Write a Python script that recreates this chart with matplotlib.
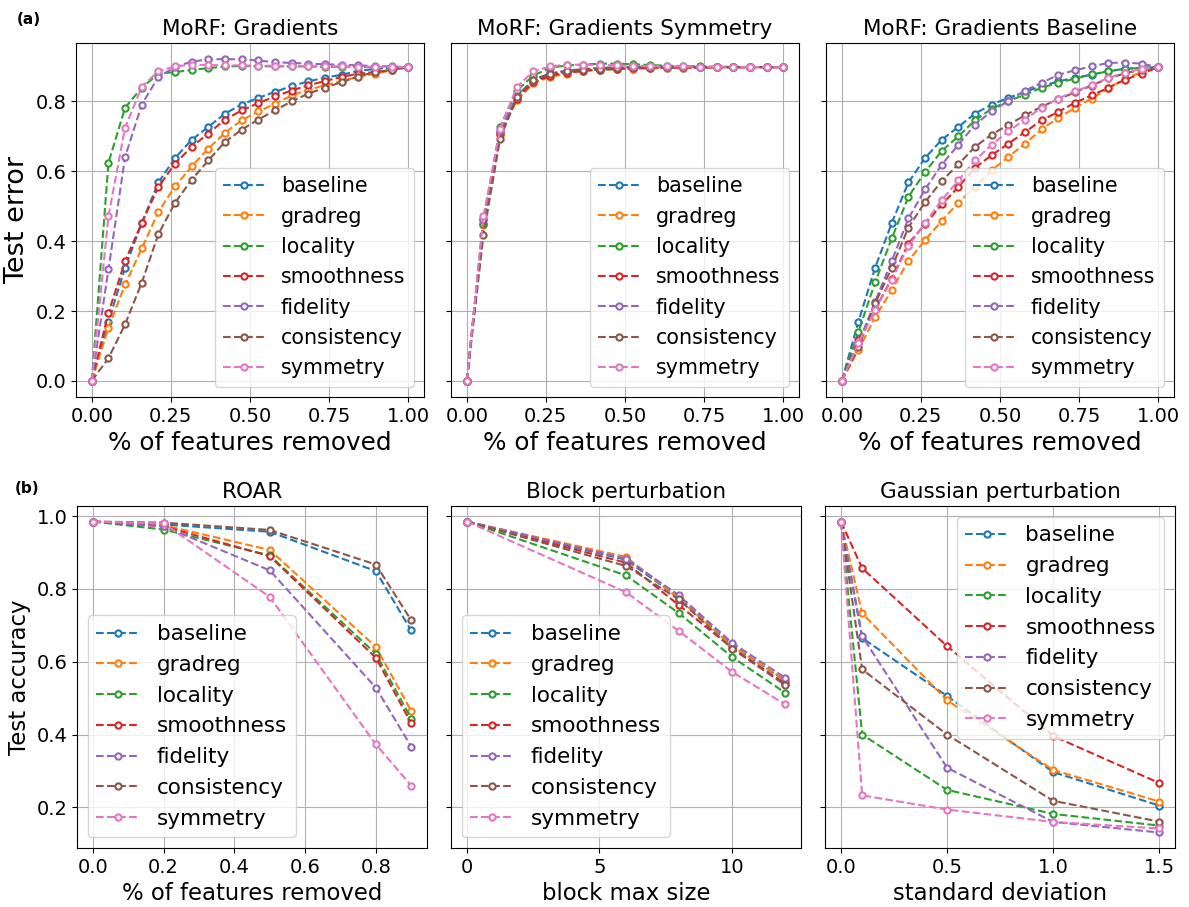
import numpy as np
import matplotlib
matplotlib.use("Agg")
import matplotlib.pyplot as plt

methods = ["baseline", "gradreg", "locality", "smoothness", "fidelity", "consistency", "symmetry"]
colors = ["#1f77b4", "#ff7f0e", "#2ca02c", "#d62728", "#9467bd", "#8c564b", "#e377c2"]

# ---- MoRF curves (fraction of features removed) ----
morf_x = np.linspace(0.0, 1.0, 20)

morf_grad = {
    "baseline":    [0, 0.170, 0.324, 0.452, 0.568, 0.638, 0.690, 0.727, 0.765, 0.791, 0.810, 0.827, 0.844, 0.857, 0.868, 0.876, 0.887, 0.893, 0.896, 0.898],
    "gradreg":     [0, 0.152, 0.276, 0.379, 0.484, 0.557, 0.614, 0.665, 0.710, 0.746, 0.771, 0.793, 0.817, 0.833, 0.846, 0.858, 0.870, 0.879, 0.889, 0.898],
    "locality":    [0, 0.624, 0.782, 0.839, 0.879, 0.884, 0.890, 0.895, 0.900, 0.901, 0.901, 0.900, 0.900, 0.900, 0.899, 0.899, 0.899, 0.898, 0.898, 0.898],
    "smoothness":  [0, 0.195, 0.343, 0.452, 0.555, 0.622, 0.670, 0.708, 0.748, 0.774, 0.795, 0.814, 0.831, 0.846, 0.858, 0.870, 0.879, 0.884, 0.889, 0.898],
    "fidelity":    [0, 0.319, 0.641, 0.791, 0.870, 0.898, 0.914, 0.920, 0.921, 0.920, 0.917, 0.912, 0.910, 0.908, 0.906, 0.905, 0.903, 0.901, 0.900, 0.898],
    "consistency": [0, 0.065, 0.162, 0.281, 0.420, 0.510, 0.576, 0.631, 0.684, 0.719, 0.748, 0.774, 0.800, 0.822, 0.839, 0.855, 0.871, 0.884, 0.890, 0.898],
    "symmetry":    [0, 0.471, 0.725, 0.841, 0.887, 0.900, 0.905, 0.904, 0.903, 0.903, 0.902, 0.902, 0.901, 0.901, 0.900, 0.900, 0.899, 0.899, 0.898, 0.898],
}

morf_sym = {
    "baseline":    [0, 0.450, 0.712, 0.810, 0.860, 0.875, 0.883, 0.888, 0.891, 0.893, 0.894, 0.895, 0.896, 0.896, 0.897, 0.897, 0.897, 0.898, 0.898, 0.898],
    "gradreg":     [0, 0.445, 0.705, 0.803, 0.852, 0.870, 0.879, 0.887, 0.890, 0.892, 0.894, 0.895, 0.896, 0.896, 0.897, 0.897, 0.897, 0.898, 0.898, 0.898],
    "locality":    [0, 0.450, 0.727, 0.831, 0.874, 0.896, 0.903, 0.905, 0.908, 0.908, 0.906, 0.904, 0.902, 0.901, 0.900, 0.899, 0.899, 0.898, 0.898, 0.898],
    "smoothness":  [0, 0.462, 0.706, 0.808, 0.855, 0.873, 0.882, 0.888, 0.891, 0.893, 0.895, 0.896, 0.897, 0.897, 0.897, 0.898, 0.898, 0.898, 0.898, 0.898],
    "fidelity":    [0, 0.460, 0.715, 0.815, 0.862, 0.880, 0.888, 0.893, 0.896, 0.898, 0.899, 0.899, 0.899, 0.899, 0.898, 0.898, 0.898, 0.898, 0.898, 0.898],
    "consistency": [0, 0.417, 0.693, 0.812, 0.862, 0.879, 0.887, 0.891, 0.894, 0.896, 0.897, 0.897, 0.898, 0.898, 0.898, 0.898, 0.898, 0.898, 0.898, 0.898],
    "symmetry":    [0, 0.471, 0.722, 0.841, 0.886, 0.900, 0.905, 0.905, 0.904, 0.903, 0.902, 0.901, 0.900, 0.900, 0.899, 0.899, 0.898, 0.898, 0.898, 0.898],
}

morf_base = {
    "baseline":    [0, 0.170, 0.324, 0.452, 0.568, 0.638, 0.690, 0.727, 0.765, 0.791, 0.810, 0.827, 0.844, 0.857, 0.868, 0.876, 0.887, 0.893, 0.896, 0.898],
    "gradreg":     [0, 0.089, 0.182, 0.260, 0.344, 0.403, 0.458, 0.510, 0.555, 0.603, 0.641, 0.679, 0.720, 0.753, 0.781, 0.808, 0.837, 0.865, 0.884, 0.898],
    "locality":    [0, 0.141, 0.282, 0.408, 0.527, 0.598, 0.658, 0.700, 0.746, 0.779, 0.801, 0.819, 0.839, 0.853, 0.865, 0.877, 0.886, 0.893, 0.896, 0.898],
    "smoothness":  [0, 0.117, 0.205, 0.293, 0.393, 0.448, 0.505, 0.555, 0.610, 0.646, 0.679, 0.712, 0.746, 0.770, 0.796, 0.817, 0.839, 0.862, 0.879, 0.898],
    "fidelity":    [0, 0.108, 0.227, 0.343, 0.465, 0.548, 0.619, 0.676, 0.733, 0.772, 0.801, 0.831, 0.853, 0.876, 0.889, 0.900, 0.910, 0.911, 0.908, 0.898],
    "consistency": [0, 0.096, 0.222, 0.324, 0.439, 0.512, 0.572, 0.620, 0.670, 0.705, 0.733, 0.760, 0.785, 0.806, 0.826, 0.845, 0.866, 0.880, 0.891, 0.898],
    "symmetry":    [0, 0.108, 0.203, 0.290, 0.386, 0.452, 0.517, 0.574, 0.631, 0.676, 0.714, 0.748, 0.782, 0.808, 0.829, 0.846, 0.867, 0.882, 0.893, 0.898],
}

# ---- Accuracy under feature removal / perturbation ----
roar_x = [0.0, 0.2, 0.5, 0.8, 0.9]
roar = {
    "baseline":    [0.985, 0.977, 0.957, 0.849, 0.686],
    "gradreg":     [0.985, 0.975, 0.907, 0.641, 0.465],
    "locality":    [0.985, 0.963, 0.892, 0.622, 0.444],
    "smoothness":  [0.985, 0.972, 0.890, 0.611, 0.431],
    "fidelity":    [0.985, 0.972, 0.851, 0.529, 0.367],
    "consistency": [0.985, 0.982, 0.962, 0.867, 0.714],
    "symmetry":    [0.985, 0.980, 0.778, 0.373, 0.260],
}

block_x = [0, 6, 8, 10, 12]
block = {
    "baseline":    [0.985, 0.880, 0.775, 0.645, 0.548],
    "gradreg":     [0.985, 0.888, 0.773, 0.643, 0.550],
    "locality":    [0.985, 0.837, 0.733, 0.613, 0.515],
    "smoothness":  [0.985, 0.872, 0.755, 0.638, 0.540],
    "fidelity":    [0.985, 0.883, 0.782, 0.652, 0.556],
    "consistency": [0.985, 0.863, 0.771, 0.636, 0.536],
    "symmetry":    [0.985, 0.791, 0.684, 0.572, 0.483],
}

gauss_x = [0.0, 0.1, 0.5, 1.0, 1.5]
gauss = {
    "baseline":    [0.985, 0.665, 0.506, 0.297, 0.205],
    "gradreg":     [0.985, 0.733, 0.494, 0.303, 0.216],
    "locality":    [0.985, 0.400, 0.248, 0.182, 0.150],
    "smoothness":  [0.985, 0.857, 0.643, 0.396, 0.267],
    "fidelity":    [0.985, 0.670, 0.309, 0.160, 0.131],
    "consistency": [0.985, 0.579, 0.400, 0.218, 0.161],
    "symmetry":    [0.985, 0.233, 0.194, 0.160, 0.142],
}

TICK = 14
TITLE = 15.5

fig = plt.figure(figsize=(11.89, 9.07), dpi=100)

top_lefts = [0.0639, 0.3793, 0.6947]
bot_lefts = [0.0648, 0.3793, 0.6939]
top_axes, bot_axes = [], []
for l in top_lefts:
    ax = fig.add_axes([l, 0.5623, 0.2927, 0.3903], sharey=top_axes[0] if top_axes else None)
    top_axes.append(ax)
for l in bot_lefts:
    ax = fig.add_axes([l, 0.0650, 0.2944, 0.3771], sharey=bot_axes[0] if bot_axes else None)
    bot_axes.append(ax)


def draw(ax, x, data, title, xlabel, xlabel_size, legend_loc, legend_size):
    for name, c in zip(methods, colors):
        ax.plot(x, data[name], linestyle="--", marker="o", color=c, lw=1.5,
                markersize=4.5, markerfacecolor="white", markeredgewidth=1.5,
                label=name)
    ax.set_title(title, fontsize=TITLE)
    ax.grid(True, color="#b0b0b0", lw=0.8)
    ax.tick_params(labelsize=TICK)
    ax.set_xlabel(xlabel, fontsize=xlabel_size)
    ax.legend(loc=legend_loc, fontsize=legend_size)


draw(top_axes[0], morf_x, morf_grad, "MoRF: Gradients", "% of features removed", 17.8, "lower right", 14.9)
draw(top_axes[1], morf_x, morf_sym, "MoRF: Gradients Symmetry", "% of features removed", 17.8, "lower right", 14.9)
draw(top_axes[2], morf_x, morf_base, "MoRF: Gradients Baseline", "% of features removed", 17.8, "lower right", 14.9)
top_axes[0].set_ylabel("Test error", fontsize=19.5)
for ax in top_axes[1:]:
    ax.tick_params(labelleft=False)
for ax in top_axes:
    ax.set_xticks([0.0, 0.25, 0.5, 0.75, 1.0])

draw(bot_axes[0], roar_x, roar, "ROAR", "% of features removed", 16.4, "lower left", 15.5)
draw(bot_axes[1], block_x, block, "Block perturbation", "block max size", 16.4, "lower left", 15.5)
draw(bot_axes[2], gauss_x, gauss, "Gaussian perturbation", "standard deviation", 16.4, "upper right", 15.5)
bot_axes[0].set_ylabel("Test accuracy", fontsize=16.5)
bot_axes[1].set_xticks([0, 5, 10])
for ax in bot_axes[1:]:
    ax.tick_params(labelleft=False)

fig.text(0.014, 0.978, "(a)", fontsize=11, fontweight="bold", va="center", ha="left")
fig.text(0.012, 0.461, "(b)", fontsize=11, fontweight="bold", va="center", ha="left")

fig.savefig("out.png", dpi=100)
